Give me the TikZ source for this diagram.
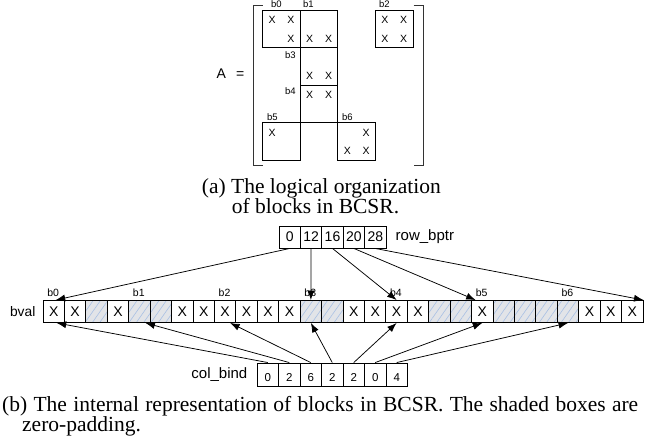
\documentclass[tikz,border=0pt]{standalone}
\usepackage{fontspec}
\setmainfont{Liberation Serif}
\setsansfont{Liberation Sans}
\usetikzlibrary{arrows.meta,patterns.meta,calc}
\definecolor{shadefill}{HTML}{E2E4E8}
\definecolor{hatch}{HTML}{A8C0E4}
\begin{document}
\begin{tikzpicture}[x=1pt,y=-1pt,
  sf/.style={font=\sffamily\fontsize{#1}{#1}\selectfont},
  cellbox/.style={draw, line width=0.9pt, minimum width=21.43pt, minimum height=22pt, inner sep=0pt, sf=14},
  xc/.style={execute at begin node={X}},
  pc/.style={preaction={fill=shadefill}, pattern={Lines[angle=55,distance=6pt,line width=0.6pt]}, pattern color=hatch},
  smallcell/.style={draw, line width=0.9pt, minimum width=21.5pt, minimum height=23pt, inner sep=0pt, sf=11.5, text height=14.3pt, text depth=0pt},
  blk/.style={draw, line width=0.9pt, minimum size=37.6pt, inner sep=0pt},
  mx/.style={sf=10.5, inner sep=0pt},
  blab/.style={sf=9.5, inner sep=0pt, anchor=base west},
  vlab/.style={sf=10.5, inner sep=0pt, anchor=base west},
  brk/.style={line width=0.9pt, draw=black!80},
  conn/.style={-{Latex[length=9.5pt,width=7pt]}, line width=0.75pt},
  captext/.style={font=\fontsize{21.5}{20}\selectfont, inner sep=0pt, anchor=base west}]
\useasboundingbox (0,0) rectangle (648,444);

% ---- matrix (a) ----
\draw[brk] (262.5,5) -- (253,5) -- (253,165) -- (262.5,165);
\draw[brk] (413.5,5) -- (423,5) -- (423,165) -- (413.5,165);
\node[sf=14, inner sep=0pt] (Aeq) at (230.5,74) {A\hspace{10pt}=};

\node[blk] (b0) at (281.5,28.8) {};
\node[blk] (b1) at (319.1,28.8) {};
\node[blk] (b2) at (394.3,28.8) {};
\node[blk] (b3) at (319.1,66.4) {};
\node[blk] (b4) at (319.1,104) {};
\node[blk] (b5) at (281.5,141.6) {};
\node[blk] (b6) at (356.7,141.6) {};

\foreach \r/\c in {0/0,0/1,1/1, 1/2,1/3, 0/6,0/7,1/6,1/7, 3/2,3/3, 4/2,4/3, 6/0, 6/5,7/4,7/5}
  \node[mx] (m\r\c) at ({272.1+18.8*\c},{19.6+18.8*\r}) {X};

\node[blab] (lb0) at (271,7.5) {b0};
\node[blab] (lb1) at (303,7.5) {b1};
\node[blab] (lb2) at (379,7.5) {b2};
\node[blab] (lb3) at (285,59) {b3};
\node[blab] (lb4) at (285,95) {b4};
\node[blab] (lb5) at (267,120.5) {b5};
\node[blab] (lb6) at (342,120.5) {b6};

\node[captext] (capa1) at (201.7,193) {(a) The logical organization};
\node[captext] (capa2) at (231.7,213) {of blocks in BCSR.};

% ---- row_bptr ----
\foreach \i/\t in {1/0,2/12,3/16,4/20,5/28}
  \node[cellbox] (r\i) at ({279+21.4*(\i-0.5)},237) {\t};
\node[sf=15, inner sep=0pt, anchor=west] (rlab) at ([xshift=9pt]r5.east) {row\_bptr};

% ---- bval ----
\foreach \i/\s in {1/xc,2/xc,3/pc,4/xc,5/pc,6/pc,7/xc,8/xc,9/xc,10/xc,11/xc,12/xc,13/pc,14/pc,15/xc,16/xc,17/xc,18/xc,19/pc,20/pc,21/xc,22/pc,23/pc,24/pc,25/pc,26/xc,27/xc,28/xc}
  \node[cellbox,\s] (v\i) at ({43+21.43*(\i-0.5)},311.5) {};
\node[sf=13.8, inner sep=0pt, anchor=east] (vlabel) at ([xshift=-7pt]v1.west) {bval};
\foreach \i/\b in {1/0,5/1,9/2,13/3,17/4,21/5,25/6}
  \node[vlab] (vb\b) at ([xshift=4.5pt,yshift=3.5pt]v\i.north west) {b\b};

% ---- col_bind ----
\foreach \i/\t in {1/0,2/2,3/6,4/2,5/2,6/0,7/4}
  \node[smallcell] (c\i) at ({257+21.5*(\i-0.5)},374.5) {\t};
\node[sf=15, inner sep=0pt, anchor=east] (clab) at ([xshift=-9pt]c1.west) {col\_bind};

% ---- arrows ----
\draw[conn] (r1.south) -- ([xshift=2pt]v1.north);
\draw[conn] (r2.south) -- (v13.north);
\draw[conn] (r3.south) -- (v17.north);
\draw[conn] (r4.south) -- ([xshift=4.5pt]v21.north west);
\draw[conn] (r5.south) -- (v28.north east);

\draw[conn] (c1.north) -- ([xshift=3pt]v1.south);
\draw[conn] (c2.north) -- ([xshift=6pt]v5.south);
\draw[conn] (c3.north) -- ([xshift=5pt]v9.south);
\draw[conn] (c4.north) -- (v13.south);
\draw[conn] (c5.north) -- (v17.south);
\draw[conn] (c6.north) -- (v21.south);
\draw[conn] (c7.north) -- (v25.south);

% ---- caption (b) ----
\node[captext] (capb1) at (2,411) {\makebox[636pt][s]{(b) The internal representation of blocks in BCSR. The shaded boxes are}};
\node[captext] (capb2) at (22,431) {zero-padding.};
\end{tikzpicture}
\end{document}
